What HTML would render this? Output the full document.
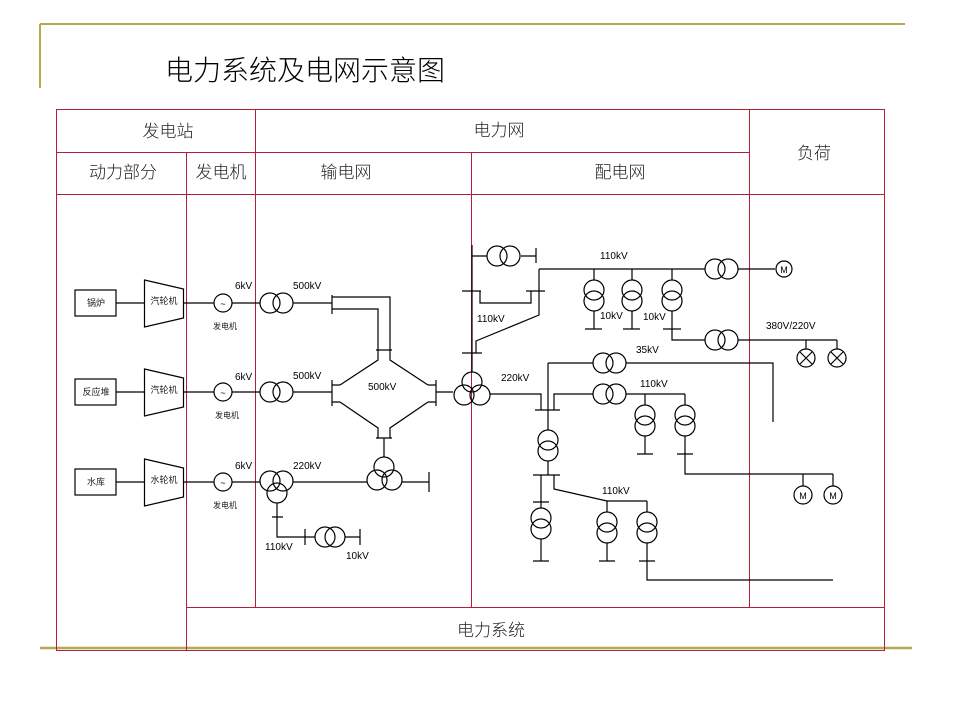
<!DOCTYPE html>
<html><head><meta charset="utf-8"><style>
html,body{margin:0;padding:0;background:#fff;}
svg{display:block;}
text{font-family:"Liberation Sans","Noto Sans CJK SC",sans-serif;}
.cj{font-family:"Liberation Sans","Noto Sans CJK SC",sans-serif;font-weight:300;}
</style></head><body>
<svg width="960" height="720" viewBox="0 0 960 720" xmlns="http://www.w3.org/2000/svg">
<line x1="40" y1="24" x2="905" y2="24" stroke="#b5a850" stroke-width="2"/>
<line x1="40" y1="24" x2="40" y2="88" stroke="#b5a850" stroke-width="2"/>
<line x1="40" y1="648" x2="912" y2="648" stroke="#b5a850" stroke-width="2.5"/>
<text x="165" y="80" font-size="28" class="cj">电力系统及电网示意图</text>
<g stroke="#b0203a" stroke-width="1" fill="none">
<rect x="56.5" y="109.5" width="828" height="541"/>
<line x1="56" y1="152.5" x2="749" y2="152.5"/>
<line x1="56" y1="194.5" x2="884" y2="194.5"/>
<line x1="186.5" y1="152" x2="186.5" y2="651"/>
<line x1="255.5" y1="109" x2="255.5" y2="607"/>
<line x1="471.5" y1="152" x2="471.5" y2="607"/>
<line x1="749.5" y1="109" x2="749.5" y2="607"/>
<line x1="186" y1="607.5" x2="884" y2="607.5"/>
</g>
<g font-size="17" text-anchor="middle" fill="#222" class="cj">
<text x="168" y="137">发电站</text>
<text x="499" y="136">电力网</text>
<text x="123" y="178">动力部分</text>
<text x="221" y="178">发电机</text>
<text x="346" y="178">输电网</text>
<text x="620" y="178">配电网</text>
<text x="814" y="159">负荷</text>
<text x="491" y="636">电力系统</text>
</g>
<g stroke="#000" stroke-width="1.2" fill="none">
<rect x="75" y="290" width="41" height="26"/>
<rect x="75" y="379" width="41" height="26"/>
<rect x="75" y="469" width="41" height="26"/>
<path d="M116 303H144M116 392H144M116 482H144"/>
<path d="M144.5 280L183.5 289V318L144.5 327Z"/>
<path d="M144.5 369L183.5 378V407L144.5 416Z"/>
<path d="M144.5 459L183.5 468V497L144.5 506Z"/>
<path d="M183 303H214M232 303H260M183 392H214M232 392H260M183 482H214M232 482H260"/>
<circle cx="223" cy="303" r="9"/><circle cx="223" cy="392" r="9"/><circle cx="223" cy="482" r="9"/>
<circle cx="270" cy="303" r="10"/><circle cx="283" cy="303" r="10"/>
<circle cx="270" cy="392" r="10"/><circle cx="283" cy="392" r="10"/>
<circle cx="270" cy="481" r="10"/><circle cx="283" cy="481" r="10"/><circle cx="277" cy="493" r="10"/>
<path d="M293 303H332M332 295V314M332 297H390V350M332 309H378V350M376 350H392"/>
<path d="M293 392H332M332 380V406M332 385H340M332 402H340"/>
<path d="M378 350V360L340 385M390 350V360L428 385M340 402L378 428V438M428 402L390 428V438M376 438H392"/>
<path d="M436 380V406M428 385H436M428 402H436M436 392H453"/>
<path d="M384 438V457"/>
<circle cx="384" cy="467" r="10"/><circle cx="377" cy="480" r="10"/><circle cx="392" cy="480" r="10"/>
<path d="M293 482H367M402 482H429M429 472V492"/>
<path d="M277 503V537H315M272 517H283M305 529V545M345 537H360M360 529V545"/>
<circle cx="325" cy="537" r="10"/><circle cx="335" cy="537" r="10"/>
<circle cx="472" cy="382" r="10"/><circle cx="464" cy="395" r="10"/><circle cx="480" cy="395" r="10"/>
<path d="M472 245V372M472 256H487M521 256H536M536 248V263"/>
<circle cx="497" cy="256" r="10"/><circle cx="510" cy="256" r="10"/>
<path d="M462 291H481M480 291V303H531V291M526 291H545"/>
<path d="M539 269V315L476 341V353M462 353H482"/>
<path d="M539 269H705M738 269H775"/>
<circle cx="715" cy="269" r="10"/><circle cx="728" cy="269" r="10"/>
<circle cx="784" cy="269" r="8"/>
<path d="M594 269V280M594 311V329M585 329H602"/>
<circle cx="594" cy="290" r="10"/><circle cx="594" cy="301" r="10"/>
<path d="M632 269V280M632 311V329M623 329H640"/>
<circle cx="632" cy="290" r="10"/><circle cx="632" cy="301" r="10"/>
<path d="M672 269V280M672 311V340H705M663 329H681M738 340H837"/>
<circle cx="672" cy="290" r="10"/><circle cx="672" cy="301" r="10"/>
<circle cx="715" cy="340" r="10"/><circle cx="728" cy="340" r="10"/>
<path d="M806 340V349M837 340V349"/>
<circle cx="806" cy="358" r="9"/><circle cx="837" cy="358" r="9"/>
<path d="M800 352L812 364M812 352L800 364M831 352L843 364M843 352L831 364"/>
<path d="M490 394H541V410M535 410H560"/>
<path d="M548 363V430M548 363H593M626 363H773V422"/>
<circle cx="603" cy="363" r="10"/><circle cx="616" cy="363" r="10"/>
<path d="M554 410V394H593M626 394H685"/>
<circle cx="603" cy="394" r="10"/><circle cx="616" cy="394" r="10"/>
<path d="M645 394V405M645 436V454M637 454H653"/>
<circle cx="645" cy="415" r="10"/><circle cx="645" cy="426" r="10"/>
<path d="M685 394V405M685 436V474H833M677 454H693"/>
<circle cx="685" cy="415" r="10"/><circle cx="685" cy="426" r="10"/>
<path d="M803 474V486M833 474V486"/>
<circle cx="803" cy="495" r="9"/><circle cx="833" cy="495" r="9"/>
<circle cx="548" cy="440" r="10"/><circle cx="548" cy="451" r="10"/>
<path d="M548 461V475M533 475H560"/>
<path d="M541 475V508M533 502H549M541 539V561M533 561H549"/>
<circle cx="541" cy="518" r="10"/><circle cx="541" cy="529" r="10"/>
<path d="M554 475V489L607 501H647"/>
<path d="M607 501V512M607 543V561M599 561H615"/>
<circle cx="607" cy="522" r="10"/><circle cx="607" cy="533" r="10"/>
<path d="M647 501V512M647 543V580H833M639 561H655"/>
<circle cx="647" cy="522" r="10"/><circle cx="647" cy="533" r="10"/>
</g>
<g font-size="10" text-anchor="middle" fill="#000">
<text x="223" y="307" font-size="9">~</text>
<text x="223" y="396" font-size="9">~</text>
<text x="223" y="486" font-size="9">~</text>
<text x="784" y="273" font-size="9">M</text>
<text x="803" y="499" font-size="9">M</text>
<text x="833" y="499" font-size="9">M</text>
</g>
<g font-size="9" text-anchor="middle" fill="#222">
<text x="96" y="306">锅炉</text>
<text x="96" y="395">反应堆</text>
<text x="96" y="485">水库</text>
<text x="164" y="304">汽轮机</text>
<text x="164" y="393">汽轮机</text>
<text x="164" y="483">水轮机</text>
<text x="225" y="329" font-size="8">发电机</text>
<text x="227" y="418" font-size="8">发电机</text>
<text x="225" y="508" font-size="8">发电机</text>
</g>
<g font-size="10" fill="#000">
<text x="235" y="289">6kV</text>
<text x="235" y="380">6kV</text>
<text x="235" y="469">6kV</text>
<text x="293" y="289">500kV</text>
<text x="293" y="379">500kV</text>
<text x="293" y="469">220kV</text>
<text x="368" y="390">500kV</text>
<text x="265" y="550">110kV</text>
<text x="346" y="559">10kV</text>
<text x="477" y="322">110kV</text>
<text x="501" y="381">220kV</text>
<text x="600" y="259">110kV</text>
<text x="600" y="319">10kV</text>
<text x="643" y="320">10kV</text>
<text x="766" y="329">380V/220V</text>
<text x="636" y="353">35kV</text>
<text x="640" y="387">110kV</text>
<text x="602" y="494">110kV</text>
</g>
</svg>
</body></html>
